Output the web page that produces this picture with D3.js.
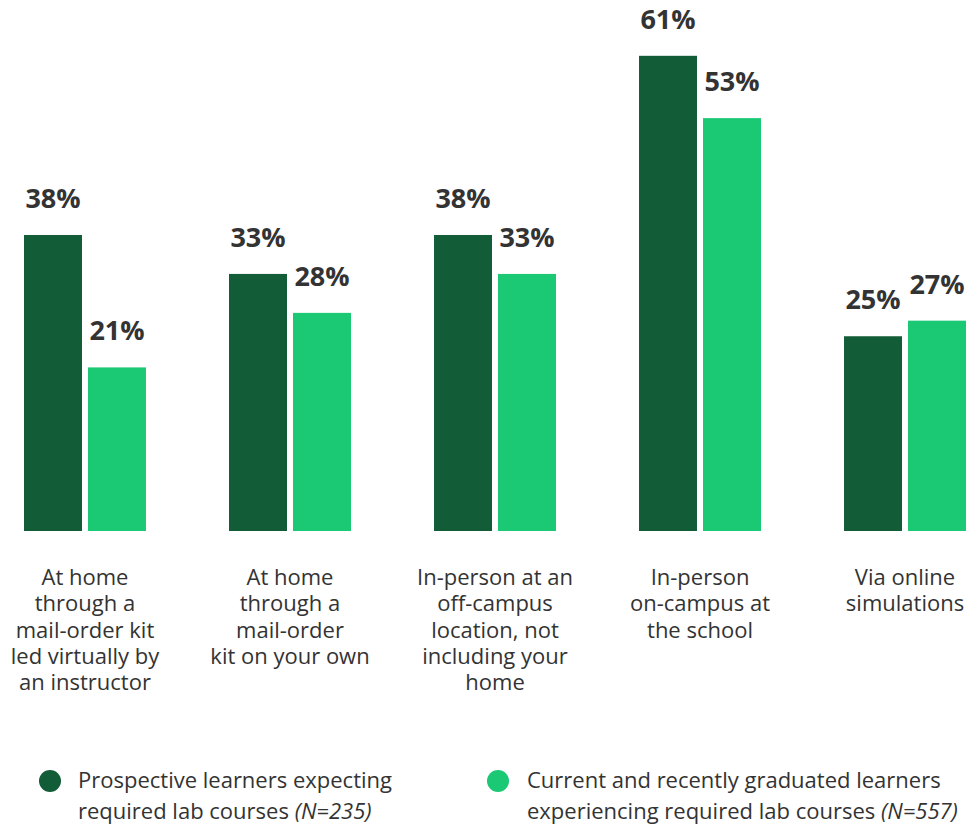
<!DOCTYPE html>
<html>
<head>
<meta charset="utf-8">
<script src="https://cdn.jsdelivr.net/npm/d3@7"></script>
<style>
  html, body { margin: 0; padding: 0; background: #fff; }
  svg { display: block; }
</style>
</head>
<body>
<svg id="chart" width="966" height="825"></svg>
<script>
// Lab course delivery modes
const categories = [
  ["At home", "through a", "mail-order kit", "led virtually by", "an instructor"],
  ["At home", "through a", "mail-order", "kit on your own"],
  ["In-person at an", "off-campus", "location, not", "including your", "home"],
  ["In-person", "on-campus at", "the school"],
  ["Via online", "simulations"]
];
const categoryKeys = ["homeKitInstructor", "homeKitOwn", "offCampus", "onCampus", "online"];
const seriesNames = ["prospective", "current"];
const prospective = [38, 33, 38, 61, 25];
const current = [21, 28, 33, 53, 27];
const legendLines = [
  [["Prospective learners expecting", ""], ["required lab courses ", "(N=235)"]],
  [["Current and recently graduated learners", ""], ["experiencing required lab courses ", "(N=557)"]]
];

const colors = { prospective: "#125C37", current: "#1BC873" };
const textColor = "#333333";
const FONT = '"Open Sans", "Noto Sans", sans-serif';

const svg = d3.select("#chart");
const baseline = 531;
const pxPerPct = 7.79;
const yMax = 65;

const x0 = d3.scaleBand()
  .domain(categoryKeys)
  .range([24, 966])
  .paddingInner(0.405)
  .paddingOuter(0);

const x1 = d3.scaleBand()
  .domain(seriesNames)
  .range([0, x0.bandwidth()])
  .paddingInner(0.09375)
  .paddingOuter(0);

const y = d3.scaleLinear()
  .domain([0, yMax])
  .range([baseline, baseline - yMax * pxPerPct]);

const rows = categoryKeys.map((k, i) => ({
  key: k,
  values: [
    { series: "prospective", value: prospective[i] },
    { series: "current", value: current[i] }
  ]
}));

const groups = svg.selectAll("g.group")
  .data(rows)
  .join("g")
  .attr("class", "group")
  .attr("transform", d => `translate(${x0(d.key)},0)`);

groups.selectAll("rect")
  .data(d => d.values)
  .join("rect")
  .attr("x", d => x1(d.series))
  .attr("y", d => y(d.value))
  .attr("width", x1.bandwidth())
  .attr("height", d => y(0) - y(d.value))
  .attr("fill", d => colors[d.series]);

groups.selectAll("text.value")
  .data(d => d.values)
  .join("text")
  .attr("class", "value")
  .attr("x", d => x1(d.series) + x1.bandwidth() / 2)
  .attr("y", d => y(d.value) - 27)
  .attr("text-anchor", "middle")
  .style("font-family", FONT)
  .style("font-size", "27px")
  .style("font-weight", 700)
  .attr("fill", textColor)
  .text(d => d.value + "%");

// Category labels under each group
const xAxis = d3.axisBottom(x0).tickSize(0).tickFormat("");
const axisG = svg.append("g")
  .attr("transform", `translate(0,${baseline})`)
  .call(xAxis);
axisG.select(".domain").remove();

axisG.selectAll(".tick").each(function(key) {
  const idx = categoryKeys.indexOf(key);
  const t = d3.select(this).append("text")
    .attr("text-anchor", "middle")
    .style("font-family", FONT)
    .style("font-size", "22px")
    .attr("fill", textColor)
    .attr("y", 54);
  categories[idx].forEach((line, j) => {
    t.append("tspan")
      .attr("x", 0)
      .attr("dy", j === 0 ? 0 : 26.3)
      .text(line);
  });
});

// Legend
const legendPos = [{ cx: 50, tx: 78 }, { cx: 498, tx: 527 }];
seriesNames.forEach((s, i) => {
  const lg = svg.append("g");
  lg.append("circle")
    .attr("cx", legendPos[i].cx)
    .attr("cy", 781)
    .attr("r", 11)
    .attr("fill", colors[s]);
  const t = lg.append("text")
    .attr("x", legendPos[i].tx)
    .attr("y", 788)
    .style("font-family", FONT)
    .style("font-size", "22px")
    .attr("fill", textColor);
  legendLines[i].forEach((line, j) => {
    t.append("tspan")
      .attr("x", legendPos[i].tx)
      .attr("dy", j === 0 ? 0 : 31)
      .text(line[0]);
    if (line[1]) {
      t.append("tspan").style("font-style", "italic").text(line[1]);
    }
  });
});
</script>
</body>
</html>
